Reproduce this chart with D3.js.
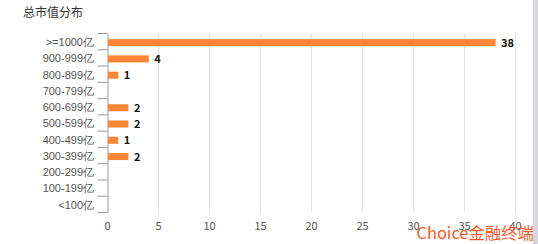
<!DOCTYPE html>
<html>
<head>
	<meta charset="utf-8">
	<script type="text/javascript" src="https://cdn.jsdelivr.net/npm/d3@7/dist/d3.min.js"></script>
	<style type="text/css">
		body { margin: 0; background: #fff; }
		svg { display: block; font-family: "Microsoft YaHei", "Noto Sans CJK SC", "DejaVu Sans", sans-serif; }
	</style>
</head>
<body>
<script type="text/javascript">

var categories = [">=1000亿", "900-999亿", "800-899亿", "700-799亿", "600-699亿", "500-599亿",
	"400-499亿", "300-399亿", "200-299亿", "100-199亿", "<100亿"];
var counts = [38, 4, 1, 0, 2, 2, 1, 2, 0, 0, 0];
var xTicks = [0, 5, 10, 15, 20, 25, 30, 35, 40];

var width = 538,
	height = 244,
	barColor = "#fd8535";

var svg = d3.select("body").append("svg")
	.attr("width", width)
	.attr("height", height);

var x = d3.scaleLinear().domain([0, 40]).range([107.5, 515.5]);
var y = d3.scaleBand().domain(categories).range([33.5, 212.5]);

// title
svg.append("text")
	.attr("x", 23)
	.attr("y", 17)
	.attr("font-size", 12)
	.attr("fill", "#333")
	.text("总市值分布");

// grid
svg.append("g").selectAll("line")
	.data(xTicks.slice(1))
  .enter().append("line")
	.attr("x1", function(d) { return x(d); })
	.attr("x2", function(d) { return x(d); })
	.attr("y1", y.range()[0])
	.attr("y2", y.range()[1])
	.attr("stroke", "#e3e3e3")
	.attr("stroke-width", 1);

// y axis
var yAxis = svg.append("g")
	.attr("transform", "translate(" + x(0) + ",0)")
	.call(d3.axisLeft(y).tickSize(0).tickPadding(13.5));
yAxis.select(".domain").attr("stroke", "#999");
yAxis.selectAll("text")
	.attr("font-size", 11)
	.attr("fill", "#555")
	.attr("font-family", "inherit")
	.attr("dy", "0.4em");

var bounds = [];
categories.forEach(function(c) { bounds.push(y(c)); });
bounds.push(y.range()[1]);
svg.append("g").selectAll("line")
	.data(bounds)
  .enter().append("line")
	.attr("x1", x(0) - 10)
	.attr("x2", x(0))
	.attr("y1", function(d) { return d; })
	.attr("y2", function(d) { return d; })
	.attr("stroke", "#999")
	.attr("stroke-width", 1);

// x tick labels
svg.append("g").selectAll("text")
	.data(xTicks)
  .enter().append("text")
	.attr("x", function(d) { return x(d); })
	.attr("y", 230)
	.attr("text-anchor", "middle")
	.attr("font-size", 11)
	.attr("fill", "#555")
	.text(function(d) { return d; });

// bars
var rows = categories.map(function(c, i) { return { cat: c, v: counts[i] }; });

svg.append("g").selectAll("rect")
	.data(rows.filter(function(d) { return d.v > 0; }))
  .enter().append("rect")
	.attr("x", x(0) + 0.5)
	.attr("y", function(d) { return y(d.cat) + y.bandwidth() / 2 - 2.5; })
	.attr("width", function(d) { return x(d.v) - x(0); })
	.attr("height", 7)
	.attr("fill", barColor);

svg.append("g").selectAll("text")
	.data(rows.filter(function(d) { return d.v > 0; }))
  .enter().append("text")
	.attr("x", function(d) { return x(d.v) + 6; })
	.attr("y", function(d) { return y(d.cat) + y.bandwidth() / 2 + 5; })
	.attr("font-size", 11)
	.attr("font-weight", "bold")
	.attr("fill", "#111")
	.text(function(d) { return d.v; });

// watermark
svg.append("text")
	.attr("x", 534)
	.attr("y", 239)
	.attr("text-anchor", "end")
	.attr("font-size", 16.4)
	.attr("fill", "#f05a28")
	.text("Choice金融终端");

// right edge strip
svg.append("rect")
	.attr("x", 533)
	.attr("y", 0)
	.attr("width", 5)
	.attr("height", height)
	.attr("fill", "#d8d8dc");

</script>
</body>
</html>
